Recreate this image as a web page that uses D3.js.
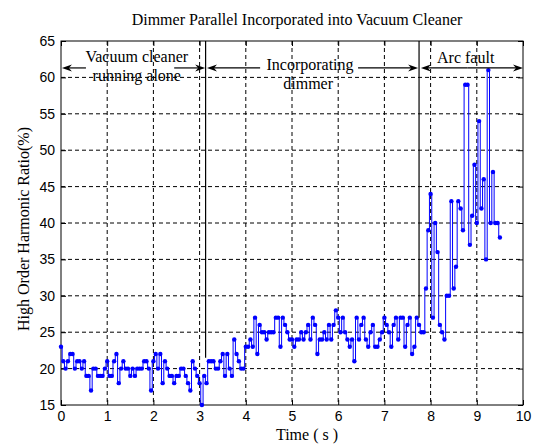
<!DOCTYPE html>
<html>
<head>
<meta charset="utf-8">
<script src="https://cdn.jsdelivr.net/npm/d3@7"></script>
<style>
  body { margin: 0; background: #fff; }
  text { fill: #000; }
</style>
</head>
<body>
<div id="vis"></div>
<script>
// Sampling step of the record (s)
var timeStep = 0.05;

// High order harmonic ratio (%), one reading every 0.05 s from t = 0
var ratioValues = [
  // 0 - 0.95 s
  23, 21, 20, 21, 22, 22, 20, 21, 21, 20, 21, 19, 19, 17, 20, 20, 19, 19, 19, 20,
  // 1.0 - 1.95 s
  21, 19, 19, 21, 22, 18, 20, 21, 20, 20, 19, 20, 19, 20, 20, 20, 21, 21, 20, 17,
  // 2.0 - 2.95 s
  21, 22, 20, 22, 18, 21, 20, 19, 19, 18, 19, 19, 20, 20, 19, 18, 17, 21, 20, 19,
  // 3.0 - 3.95 s
  18, 15, 19, 18, 21, 21, 21, 20, 20, 21, 22, 19, 22, 20, 19, 24, 22, 21, 20, 20,
  // 4.0 - 4.95 s
  23, 23, 24, 23, 27, 22, 26, 25, 25, 24, 25, 25, 25, 27, 27, 23, 27, 26, 25, 24,
  // 5.0 - 5.95 s
  24, 23, 24, 24, 25, 24, 25, 26, 24, 27, 26, 22, 24, 24, 25, 24, 26, 24, 26, 28,
  // 6.0 - 6.95 s
  27, 25, 27, 25, 24, 23, 24, 21, 27, 24, 26, 27, 24, 23, 25, 26, 23, 23, 24, 25,
  // 7.0 - 7.95 s
  27, 26, 25, 23, 26, 27, 24, 27, 27, 23, 26, 27, 22, 23, 27, 26, 25, 25, 31, 39,
  // 8.0 - 8.95 s
  44, 27, 40, 36, 26, 25, 24, 30, 30, 43, 31, 34, 43, 42, 39, 59, 59, 37, 41, 48,
  // 9.0 - 9.5 s
  40, 54, 42, 46, 35, 61, 40, 47, 40, 40, 38
];

var xTicks = [0, 1, 2, 3, 4, 5, 6, 7, 8, 9, 10];
var yTicks = [15, 20, 25, 30, 35, 40, 45, 50, 55, 60, 65];

// stage boundaries (s) and how far down the marker line reaches (%)
var stageLines = [
  { t: 3.13, bottom: 21.5 },
  { t: 7.75, bottom: 27 }
];

// stage arrows, in data units
var arrowLevel = 61.3;
var stageArrows = [
  { from: 0.54, to: 0.02 },
  { from: 2.45, to: 3.12 },
  { from: 4.31, to: 3.16 },
  { from: 6.43, to: 7.73 },
  { from: 8.8, to: 7.79 },
  { from: 8.8, to: 10 }
];

var stageLabels = [
  { t: 1.64, v: 62.1, text: 'Vacuum cleaner' },
  { t: 1.64, v: 59.5, text: 'running alone' },
  { t: 5.39, v: 61.0, text: 'Incorporating' },
  { t: 5.35, v: 58.4, text: 'dimmer' },
  { t: 8.76, v: 62.0, text: 'Arc fault' }
];

var width = 536;
var height = 444;
var margin = { top: 41, right: 13, bottom: 39, left: 61 };

var svg = d3.select('#vis')
  .append('svg')
  .attr('width', width)
  .attr('height', height);

var x = d3.scaleLinear()
  .domain([0, 10])
  .range([margin.left, width - margin.right]);

var y = d3.scaleLinear()
  .domain([15, 65])
  .range([height - margin.bottom, margin.top]);

var serif = '"Liberation Serif", "Times New Roman", serif';
var sans = '"Liberation Sans", Arial, sans-serif';

// grid
svg.append('g')
  .selectAll('line')
  .data(xTicks.slice(1, -1))
  .enter().append('line')
  .attr('x1', function (d) { return x(d); })
  .attr('x2', function (d) { return x(d); })
  .attr('y1', y(65))
  .attr('y2', y(15))
  .attr('stroke', '#000')
  .attr('stroke-dasharray', '4,3');

svg.append('g')
  .selectAll('line')
  .data(yTicks.slice(1, -1))
  .enter().append('line')
  .attr('x1', x(0))
  .attr('x2', x(10))
  .attr('y1', function (d) { return y(d); })
  .attr('y2', function (d) { return y(d); })
  .attr('stroke', '#000')
  .attr('stroke-dasharray', '4,3');

// axes with inner ticks on all four sides
var tickLen = 5;
function styleAxis(g) {
  g.select('.domain').remove();
  g.selectAll('.tick line').attr('stroke', '#000');
  g.selectAll('.tick text')
    .style('font-family', sans)
    .style('font-size', '14px')
    .attr('fill', '#000');
}

svg.append('g')
  .attr('transform', 'translate(0,' + y(15) + ')')
  .call(d3.axisBottom(x).tickValues(xTicks).tickSizeInner(-tickLen).tickPadding(6))
  .call(styleAxis);

svg.append('g')
  .attr('transform', 'translate(0,' + y(65) + ')')
  .call(d3.axisTop(x).tickValues(xTicks).tickSizeInner(-tickLen).tickFormat(''))
  .call(styleAxis);

svg.append('g')
  .attr('transform', 'translate(' + x(0) + ',0)')
  .call(d3.axisLeft(y).tickValues(yTicks).tickSizeInner(-tickLen).tickPadding(6))
  .call(styleAxis);

svg.append('g')
  .attr('transform', 'translate(' + x(10) + ',0)')
  .call(d3.axisRight(y).tickValues(yTicks).tickSizeInner(-tickLen).tickFormat(''))
  .call(styleAxis);

// frame
svg.append('rect')
  .attr('x', x(0))
  .attr('y', y(65))
  .attr('width', x(10) - x(0))
  .attr('height', y(15) - y(65))
  .attr('fill', 'none')
  .attr('stroke', '#000');

// data
var points = ratioValues.map(function (v, i) {
  return { t: i * timeStep, v: v };
});

var line = d3.line()
  .curve(d3.curveStep)
  .x(function (d) { return x(d.t); })
  .y(function (d) { return y(d.v); });

svg.append('path')
  .datum(points)
  .attr('d', line)
  .attr('fill', 'none')
  .attr('stroke', '#0000ff')
  .attr('stroke-width', 1);

svg.append('g')
  .selectAll('circle')
  .data(points)
  .enter().append('circle')
  .attr('cx', function (d) { return x(d.t); })
  .attr('cy', function (d) { return y(d.v); })
  .attr('r', 2.2)
  .attr('fill', '#0000ff');

// stage boundaries
svg.append('g')
  .selectAll('line')
  .data(stageLines)
  .enter().append('line')
  .attr('x1', function (d) { return x(d.t); })
  .attr('x2', function (d) { return x(d.t); })
  .attr('y1', y(65))
  .attr('y2', function (d) { return y(d.bottom); })
  .attr('stroke', '#000')
  .attr('stroke-width', 1.2);

// arrows
var arrows = svg.append('g');
stageArrows.forEach(function (a) {
  var x1 = x(a.from), x2 = x(a.to), yy = y(arrowLevel);
  var dir = x2 > x1 ? 1 : -1;
  arrows.append('line')
    .attr('x1', x1).attr('x2', x2 - dir * 3)
    .attr('y1', yy).attr('y2', yy)
    .attr('stroke', '#000')
    .attr('stroke-width', 1.2);
  arrows.append('path')
    .attr('d', 'M' + x2 + ',' + yy +
      'L' + (x2 - dir * 10) + ',' + (yy - 3.5) +
      'L' + (x2 - dir * 7) + ',' + yy +
      'L' + (x2 - dir * 10) + ',' + (yy + 3.5) + 'Z')
    .attr('fill', '#000');
});

// stage labels
svg.append('g')
  .selectAll('text')
  .data(stageLabels)
  .enter().append('text')
  .attr('x', function (d) { return x(d.t); })
  .attr('y', function (d) { return y(d.v); })
  .attr('text-anchor', 'middle')
  .style('font-family', serif)
  .style('font-size', '16px')
  .text(function (d) { return d.text; });

// title and axis labels
svg.append('text')
  .attr('x', 297)
  .attr('y', 25)
  .attr('text-anchor', 'middle')
  .style('font-family', serif)
  .style('font-size', '16px')
  .text('Dimmer Parallel Incorporated into Vacuum Cleaner');

svg.append('text')
  .attr('x', 307)
  .attr('y', 440)
  .attr('text-anchor', 'middle')
  .style('font-family', serif)
  .style('font-size', '16px')
  .text('Time ( s )');

svg.append('text')
  .attr('transform', 'translate(29,' + ((y(15) + y(65)) / 2 + 6) + ') rotate(-90)')
  .attr('text-anchor', 'middle')
  .style('font-family', serif)
  .style('font-size', '16px')
  .text('High Order Harmonic Ratio(%)');
</script>
</body>
</html>
